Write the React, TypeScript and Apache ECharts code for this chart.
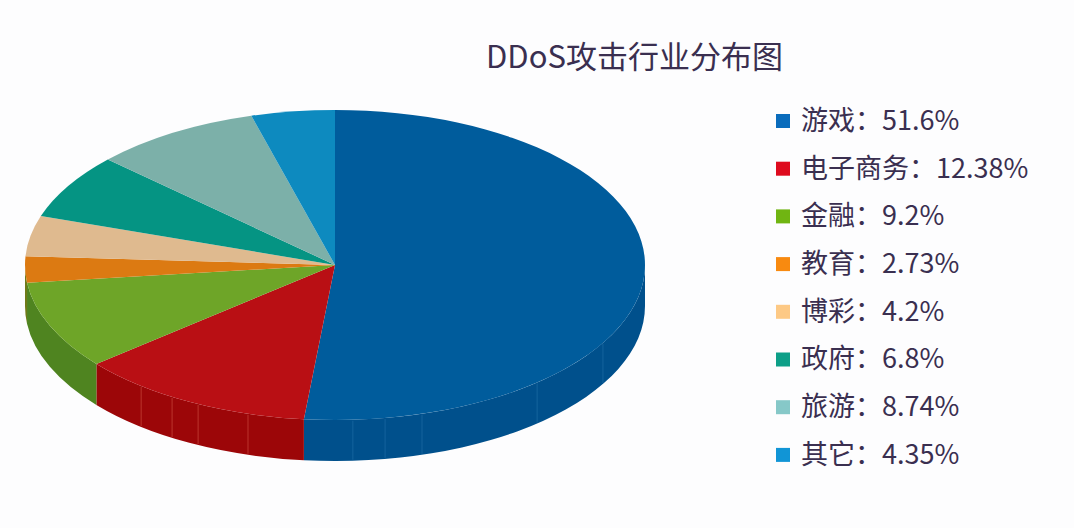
import React, { useEffect, useRef } from "react";
import * as echarts from "echarts";

const titleText = "DDoS攻击行业分布图";
const categories = ["游戏", "电子商务", "金融", "教育", "博彩", "政府", "旅游", "其它"];
const shares = [51.6, 12.38, 9.2, 2.73, 4.2, 6.8, 8.74, 4.35];
const legendColors = ["#0a6cbc", "#de0b1e", "#70b512", "#f88a10", "#fdc985", "#0d9f88", "#86c8c8", "#1195d6"];
const topColors = ["#005c9c", "#b90f14", "#6ea528", "#dc7a12", "#dfba8f", "#059483", "#7cb0a9", "#0d8abf"];
const sideColors = ["#00508c", "#9c0608", "#4f8420", "#6f7a18", "#b89870", "#047565", "#5c8c85", "#0a6c98"];
const seamColors = ["#1d6aa3", "#c8483c"];
const seamAngles = [[176.7, 170.7, 163.7, 139.3, 120.2], [218.7, 211.7, 206.2, 196.3]];

const CX = 335;
const CY = 265;
const RX = 310;
const RY = 155;
const DEPTH = 41;

const px = (deg: number) => CX + RX * Math.sin((deg * Math.PI) / 180);
const py = (deg: number) => CY - RY * Math.cos((deg * Math.PI) / 180);
const arcTo = (deg: number, large: number, sweep: number, dy = 0) =>
  `A ${RX} ${RY} 0 ${large} ${sweep} ${px(deg)} ${py(deg) + dy}`;

function makeRenderItem(index: number, startShare: number) {
  return (_params: any, api: any) => {
    const start = (startShare / 100) * 360;
    const end = start + (api.value(0) / 100) * 360;
    const children: any[] = [];
    const wallStart = Math.max(start, 90);
    const wallEnd = Math.min(end, 270);
    if (wallEnd > wallStart) {
      const large = wallEnd - wallStart > 180 ? 1 : 0;
      children.push({
        type: "path",
        shape: {
          pathData: `M ${px(wallStart)} ${py(wallStart)} ${arcTo(wallEnd, large, 1)} L ${px(wallEnd)} ${py(wallEnd) + DEPTH} ${arcTo(wallStart, large, 0, DEPTH)} Z`,
        },
        style: { fill: sideColors[index] },
      });
      (seamAngles[index] || []).forEach((deg) => {
        children.push({
          type: "line",
          shape: { x1: px(deg), y1: py(deg) + 1, x2: px(deg), y2: py(deg) + DEPTH - 1 },
          style: { stroke: seamColors[index], lineWidth: 1.2, opacity: 0.6 },
        });
      });
    }
    const large = end - start > 180 ? 1 : 0;
    children.push({
      type: "path",
      shape: {
        pathData: `M ${CX} ${CY} L ${px(start)} ${py(start)} ${arcTo(end, large, 1)} Z`,
      },
      style: { fill: topColors[index] },
    });
    return { type: "group", children };
  };
}

export default function App() {
  const ref = useRef<HTMLDivElement>(null);
  useEffect(() => {
    const chart = echarts.init(ref.current!, null, { renderer: "svg" });
    let running = 0;
    const series = categories.map((name, i) => {
      const s = {
        type: "custom",
        name,
        coordinateSystem: "none",
        silent: true,
        itemStyle: { color: legendColors[i] },
        data: [[shares[i]]],
        renderItem: makeRenderItem(i, running),
      };
      running += shares[i];
      return s;
    });
    chart.setOption({
      animation: false,
      backgroundColor: "#fdfdfe",
      title: {
        text: titleText,
        left: 486,
        top: 39,
        padding: 0,
        textStyle: {
          fontFamily: "Noto Sans CJK SC",
          fontSize: 31,
          fontWeight: "normal",
          color: "#3a2f50",
        },
      },
      legend: {
        orient: "vertical",
        left: 776,
        top: 105,
        padding: 0,
        icon: "rect",
        itemWidth: 14,
        itemHeight: 14,
        itemGap: 15.7,
        selectedMode: false,
        data: categories,
        formatter: (name: string) => `{t|${name}：${shares[categories.indexOf(name)]}%}`,
        textStyle: {
          rich: {
            t: {
              fontFamily: "Noto Sans CJK SC",
              fontSize: 27,
              lineHeight: 28,
              padding: [0, 0, 5, 6],
              color: "#3a2f50",
            },
          },
        },
      },
      series,
    });
    return () => chart.dispose();
  }, []);
  return (
    <div
      ref={ref}
      style={{ position: "fixed", left: 0, top: 0, width: 1074, height: 528 }}
    />
  );
}
